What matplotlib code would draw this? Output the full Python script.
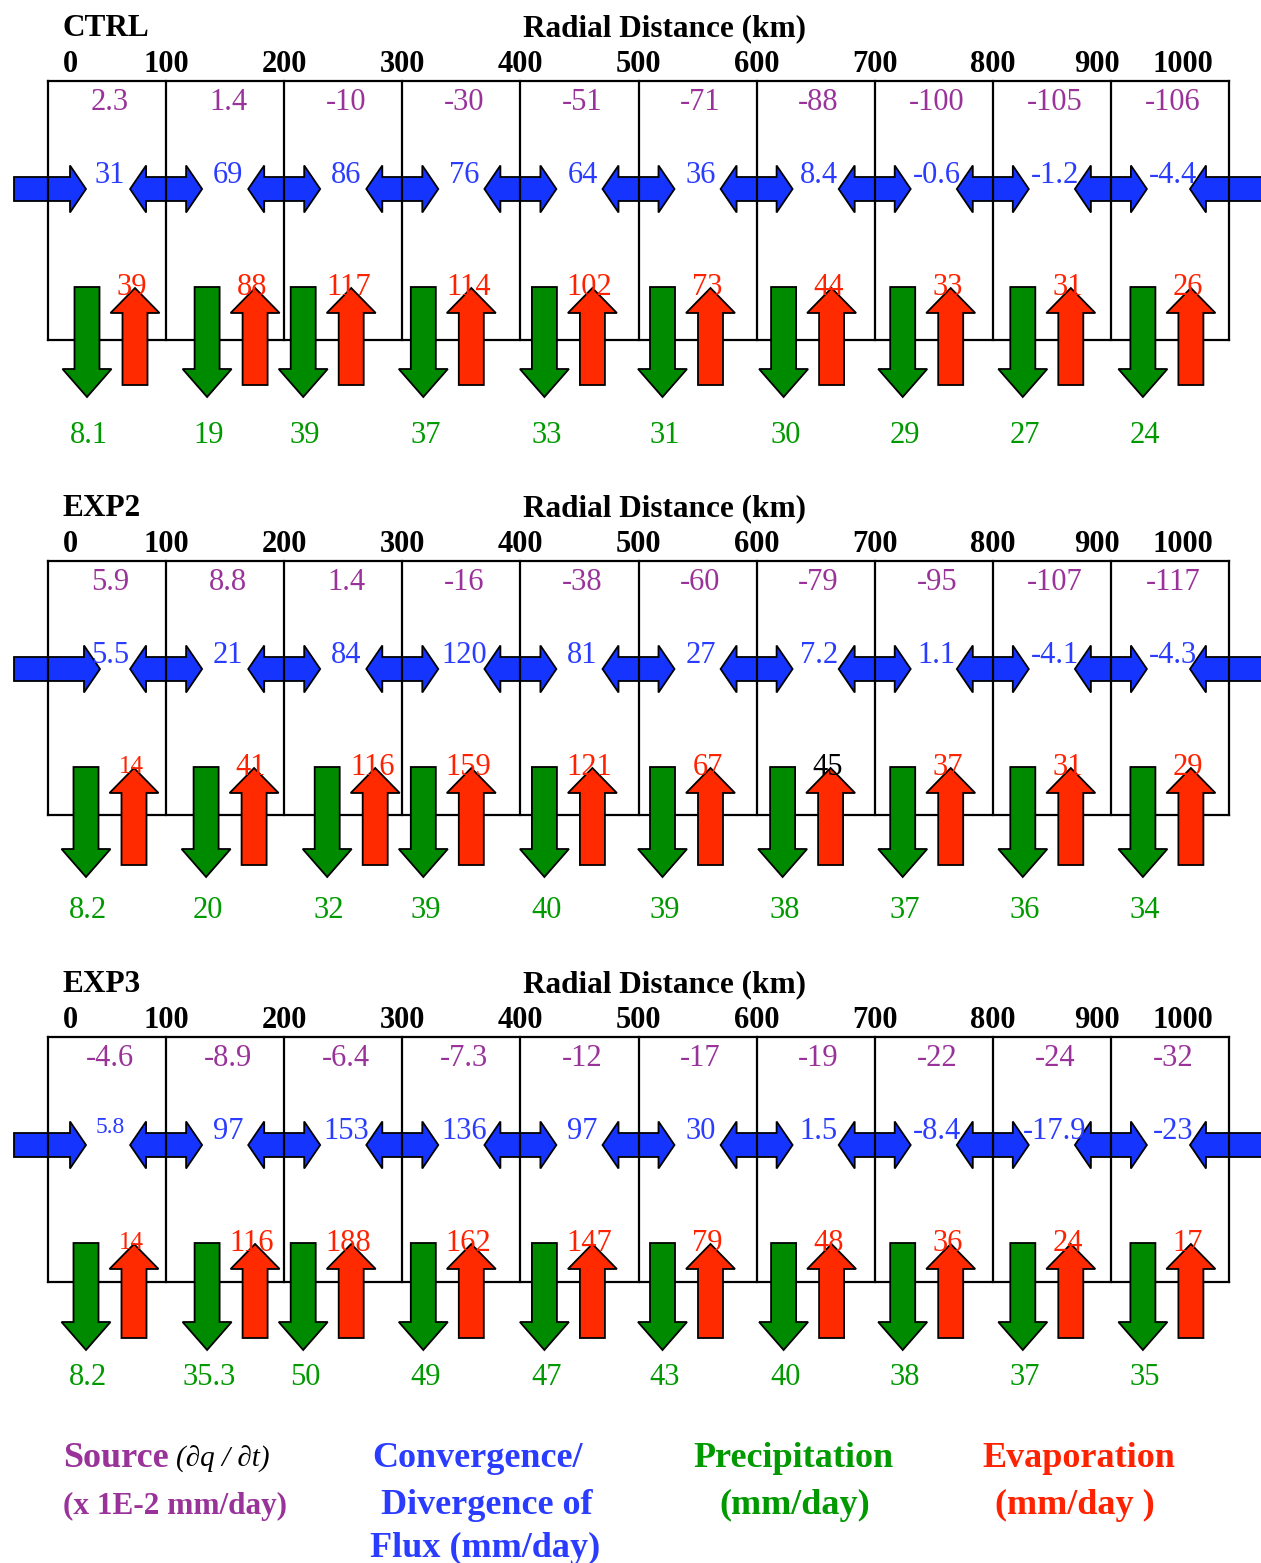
import numpy as np
import matplotlib.pyplot as plt
from matplotlib.patches import Polygon

plt.rcParams['font.family'] = ['Liberation Serif', 'DejaVu Serif']

# radial distance of the bin edges (km)
radii = [0, 100, 200, 300, 400, 500, 600, 700, 800, 900, 1000]
exp_names = ["CTRL", "EXP2", "EXP3"]

# source (x 1E-2 mm/day), flux conv/div, evaporation, precipitation (mm/day)
source_ctrl = [2.3, 1.4, -10, -30, -51, -71, -88, -100, -105, -106]
flux_ctrl = [31, 69, 86, 76, 64, 36, 8.4, -0.6, -1.2, -4.4]
evap_ctrl = [39, 88, 117, 114, 102, 73, 44, 33, 31, 26]
prec_ctrl = [8.1, 19, 39, 37, 33, 31, 30, 29, 27, 24]

source_exp2 = [5.9, 8.8, 1.4, -16, -38, -60, -79, -95, -107, -117]
flux_exp2 = [5.5, 21, 84, 120, 81, 27, 7.2, 1.1, -4.1, -4.3]
evap_exp2 = [14, 41, 116, 159, 121, 67, 45, 37, 31, 29]
prec_exp2 = [8.2, 20, 32, 39, 40, 39, 38, 37, 36, 34]

source_exp3 = [-4.6, -8.9, -6.4, -7.3, -12, -17, -19, -22, -24, -32]
flux_exp3 = [5.8, 97, 153, 136, 97, 30, 1.5, -8.4, -17.9, -23]
evap_exp3 = [14, 116, 188, 162, 147, 79, 48, 36, 24, 17]
prec_exp3 = [8.2, 35.3, 50, 49, 47, 43, 40, 38, 37, 35]

panels = [
    (source_ctrl, flux_ctrl, evap_ctrl, prec_ctrl),
    (source_exp2, flux_exp2, evap_exp2, prec_exp2),
    (source_exp3, flux_exp3, evap_exp3, prec_exp3),
]

# layout (pixels)
W, H = 1261, 1563
box_left, box_right = 48, 1229
panel_top = [81, 561, 1037]
box_h = [259, 254, 245]
pxkm = (box_right - box_left) / (radii[-1] - radii[0])   # pixels per km
# where the arrow pair sits inside each bin (px from the bin's left edge), hand placed in the slide
pair_off = [
    [39, 41, 19, 21, 24, 24, 27, 28, 30, 32],
    [38, 40, 43, 21, 24, 24, 26, 28, 30, 32],
    [38, 41, 19, 21, 24, 24, 27, 28, 30, 32],
]

c_purple = '#993399'
c_blue_t = '#2a3cff'
c_blue = '#1535ff'
c_green = '#008a00'
c_green_t = '#009900'
c_red = '#ff2a00'
c_red_t = '#ff2200'

# small / odd labels as in the original slide
small_flux = {2: [0]}
small_evap = {1: [0], 2: [0]}
black_evap = {1: [6]}

fig = plt.figure(figsize=(W / 100, H / 100), dpi=100)
ax = fig.add_axes([0, 0, 1, 1])
ax.set_xlim(-box_left / pxkm, (W - box_left) / pxkm)
ax.set_ylim(H, 0)
ax.axis('off')


def k(p):
    # pixel length -> km
    return p / pxkm


def v_arrow(xc, y_tail, y_tip, color):
    sw, hw = k(12.5), k(24.5)
    hl = 28 if y_tip > y_tail else 25
    s = 1 if y_tip > y_tail else -1
    yb = y_tip - s * hl
    pts = [(xc - sw, y_tail), (xc + sw, y_tail), (xc + sw, yb), (xc + hw, yb),
           (xc, y_tip), (xc - hw, yb), (xc - sw, yb)]
    ax.add_patch(Polygon(pts, closed=True, fc=color, ec='black', lw=1.3, zorder=4))


def h_arrow(x0, x1, yc, left, right):
    sh, hh, hl = 12, 23.5, k(16)
    pts = []
    if left:
        pts += [(x0 + hl, yc + hh), (x0, yc), (x0 + hl, yc - hh), (x0 + hl, yc - sh)]
    else:
        pts += [(x0, yc + sh), (x0, yc - sh)]
    if right:
        pts += [(x1 - hl, yc - sh), (x1 - hl, yc - hh), (x1, yc), (x1 - hl, yc + hh), (x1 - hl, yc + sh)]
    else:
        pts += [(x1, yc - sh), (x1, yc + sh)]
    if left:
        pts += [(x0 + hl, yc + sh)]
    ax.add_patch(Polygon(pts, closed=True, fc=c_blue, ec='black', lw=1.3, zorder=2))


edges = np.array(radii, dtype=float)
centers = (edges[:-1] + edges[1:]) / 2

for p, (src, flx, evp, prc) in enumerate(panels):
    top = panel_top[p]
    bot = top + box_h[p]
    x_green = edges[:-1] + k(np.array(pair_off[p]))
    x_red = x_green + k(48)

    # header
    ax.text(k(63 - box_left), top - 45, exp_names[p], fontsize=22.5, fontweight='bold', va='baseline')
    ax.text(522, top - 45, "Radial Distance (km)", fontsize=22.5, fontweight='bold',
            ha='center', va='baseline')
    for i, r in enumerate(radii):
        if i == 0:
            ax.text(r + k(15), top - 9, str(r), fontsize=22, fontweight='bold', ha='left', va='baseline')
        elif i == len(radii) - 1:
            ax.text(r - k(16), top - 9, str(r), fontsize=22, fontweight='bold', ha='right', va='baseline')
        elif i == len(radii) - 2:
            ax.text(r - k(14), top - 9, str(r), fontsize=22, fontweight='bold', ha='center', va='baseline')
        else:
            ax.text(r, top - 9, str(r), fontsize=22, fontweight='bold', ha='center', va='baseline')

    # box and bins
    ax.plot([radii[0], radii[-1]], [top, top], color='black', lw=1.6, zorder=3)
    ax.plot([radii[0], radii[-1]], [bot, bot], color='black', lw=1.6, zorder=3)
    for r in radii:
        ax.plot([r, r], [top, bot], color='black', lw=1.6, zorder=3)

    # flux arrows
    yc = top + 108
    h_arrow(-k(34), radii[0] + k(38 if p != 1 else 52), yc, False, True)
    for r in radii[1:-1]:
        h_arrow(r - k(36), r + k(36), yc, True, True)
    h_arrow(radii[-1] - k(39), radii[-1] + k(60), yc, True, False)

    for i in range(len(src)):
        ax.text(centers[i] + k(3), top + 29, f"{src[i]:g}", fontsize=22, color=c_purple,
                ha='center', va='baseline', zorder=5)
        fs = 17 if i in small_flux.get(p, []) else 22
        ax.text(centers[i] + k(3), top + 102 - (6 if fs < 20 else 0), f"{flx[i]:g}", fontsize=fs,
                color=c_blue_t, ha='center', va='baseline', zorder=5)

        v_arrow(x_green[i], top + 206, top + 316 - (3 if p == 2 else 0), c_green)
        v_arrow(x_red[i], top + 304 - (3 if p == 2 else 0), top + 207, c_red)

        fs = 18 if i in small_evap.get(p, []) else 22
        col = 'black' if i in black_evap.get(p, []) else c_red_t
        ax.text(x_red[i] - k(3), top + 214 - (2 if fs < 20 else 0), f"{evp[i]:g}", fontsize=fs,
                color=col, ha='center', va='baseline', zorder=5)
        ax.text(x_green[i] + k(2), bot + 103, f"{prc[i]:g}", fontsize=22, color=c_green_t,
                ha='center', va='baseline', zorder=5)

# legend text at the bottom
fig.text(63 / W, 1 - 1467 / H, "Source", fontsize=26, fontweight='bold', color=c_purple, va='baseline')
fig.text(176 / W, 1 - 1467 / H, "(\u2202q / \u2202t)", fontsize=21, style='italic', color='black', va='baseline')
fig.text(63 / W, 1 - 1514 / H, "(x 1E-2 mm/day)", fontsize=22.5, fontweight='bold', color=c_purple, va='baseline')

fig.text(372 / W, 1 - 1467 / H, "Convergence/", fontsize=26, fontweight='bold', color=c_blue_t, va='baseline')
fig.text(381 / W, 1 - 1514 / H, "Divergence of", fontsize=26, fontweight='bold', color=c_blue_t, va='baseline')
fig.text(370 / W, 1 - 1557 / H, "Flux (mm/day)", fontsize=26, fontweight='bold', color=c_blue_t, va='baseline')

fig.text(793 / W, 1 - 1467 / H, "Precipitation", fontsize=26, fontweight='bold', color=c_green_t,
         ha='center', va='baseline')
fig.text(795 / W, 1 - 1514 / H, "(mm/day)", fontsize=26, fontweight='bold', color=c_green_t,
         ha='center', va='baseline')

fig.text(1079 / W, 1 - 1467 / H, "Evaporation", fontsize=26, fontweight='bold', color=c_red_t,
         ha='center', va='baseline')
fig.text(1075 / W, 1 - 1514 / H, "(mm/day )", fontsize=26, fontweight='bold', color=c_red_t,
         ha='center', va='baseline')

fig.savefig("out.png", dpi=100, facecolor='white')
